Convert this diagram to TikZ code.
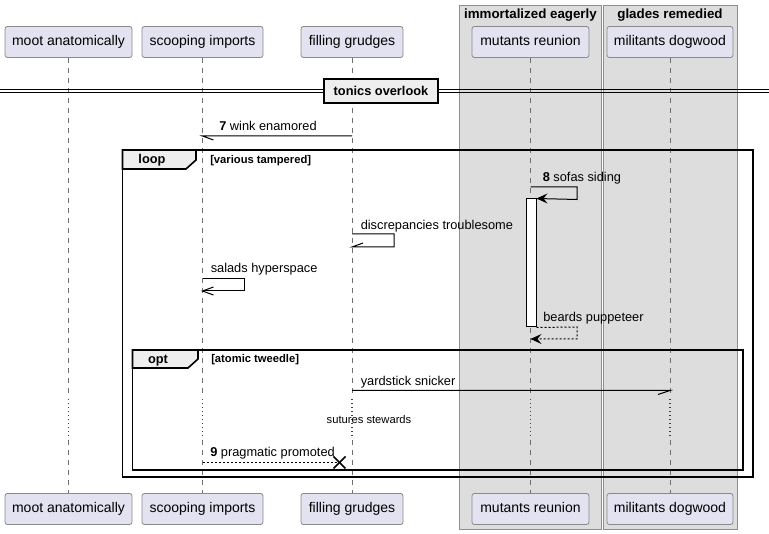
\documentclass[tikz,border=0pt]{standalone}
\usepackage{fontspec}
\setmainfont{Liberation Sans}
\usetikzlibrary{calc}
\definecolor{partfill}{HTML}{E2E2F0}
\definecolor{partdraw}{HTML}{8A8A8A}
\definecolor{grpfill}{HTML}{DDDDDD}
\definecolor{grpdraw}{HTML}{8F8F8F}
\definecolor{tabfill}{HTML}{EEEEEE}
\definecolor{lifecol}{HTML}{6E6E6E}
\definecolor{delayred}{HTML}{C0003A}
\tikzset{
  part/.style={draw=partdraw, fill=partfill, rounded corners=1.8pt, line width=0.6pt,
    minimum height=23.25pt, inner sep=0pt, text height=7.7pt, text depth=2.3pt,
    font=\fontsize{10.5}{12}\selectfont},
  life/.style={draw=lifecol, line width=0.6pt, dash pattern=on 3.75pt off 3.75pt},
  delayline/.style={draw=delayred, line width=0.8pt, dash pattern=on 0.8pt off 2.2pt},
  msg/.style={draw=black, line width=0.75pt},
  retmsg/.style={draw=black, line width=0.75pt, dash pattern=on 1.5pt off 1.5pt},
  msglabel/.style={anchor=base west, inner sep=0pt, font=\fontsize{9.6}{11}\selectfont},
  framebox/.style={draw=black, line width=1.4pt},
  tabshape/.style={draw=black, fill=tabfill, line width=1.2pt},
  tabtitle/.style={anchor=base, inner sep=0pt, font=\bfseries\fontsize{9.6}{11}\selectfont},
  guard/.style={anchor=base west, inner sep=0pt, font=\bfseries\fontsize{8.4}{10}\selectfont},
  grptitle/.style={anchor=base, inner sep=0pt, font=\bfseries\fontsize{10}{12}\selectfont},
  activ/.style={draw=black, fill=white, line width=0.75pt}
}
\begin{document}
\begin{tikzpicture}[x=0.75pt,y=-0.75pt]
\useasboundingbox (0,0) rectangle (769,534);

% group boxes
\filldraw[fill=grpfill, draw=grpdraw, line width=0.75pt] (459.5,6) rectangle (601,529.5);
\filldraw[fill=grpfill, draw=grpdraw, line width=0.75pt] (603,6) rectangle (737.5,529.5);
\node[grptitle] (g1) at (530.5,18.5) {immortalized eagerly};
\node[grptitle] (g2) at (670,18.5) {glades remedied};

% participants
\node[part, minimum width=95.25pt] (mootT) at (68.5,42) {moot anatomically};
\node[part, minimum width=90.75pt] (scoT) at (202.5,42) {scooping imports};
\node[part, minimum width=76.5pt] (filT) at (352,42) {filling grudges};
\node[part, minimum width=87.75pt] (mutT) at (530.5,42) {mutants reunion};
\node[part, minimum width=94.5pt] (milT) at (670,42) {militants dogwood};

\node[part, minimum width=95.25pt] (mootB) at (68.5,509) {moot anatomically};
\node[part, minimum width=90.75pt] (scoB) at (202.5,509) {scooping imports};
\node[part, minimum width=76.5pt] (filB) at (352,509) {filling grudges};
\node[part, minimum width=87.75pt] (mutB) at (530.5,509) {mutants reunion};
\node[part, minimum width=94.5pt] (milB) at (670,509) {militants dogwood};

% lifelines with delay
\foreach \t/\b in {mootT/mootB, scoT/scoB, filT/filB, mutT/mutB, milT/milB}{
  \draw[life] (\t.south) -- (\t.south |- 0,397);
  \draw[delayline] (\t.south |- 0,399) -- (\t.south |- 0,438);
  \draw[life] (\t.south |- 0,440) -- (\b.north);
}

% separator
\draw[line width=0.75pt] (0,89.5) -- (769,89.5);
\draw[line width=0.75pt] (0,93) -- (769,93);
\node[draw=black, fill=tabfill, line width=1.5pt, minimum width=85pt, minimum height=18.5pt,
  inner sep=0pt, font=\bfseries\fontsize{9.6}{11}\selectfont] (sep) at (381,91) {tonics overlook};

% message 7
\coordinate (m7a) at (filT.south |- 0,136);
\coordinate (m7b) at (scoT.south |- 0,136);
\draw[msg] (m7a) -- (m7b) -- ++(11,4);
\node[msglabel] (l7) at (219,131) {\textbf{7} wink enamored};

% loop frame
\draw[framebox] (122.5,150) rectangle (753,477);
\filldraw[tabshape] (122.5,150) -- (196,150) -- (196,160) -- (186,169) -- (122.5,169) -- cycle;
\node[tabtitle] (looplbl) at (152,164) {loop};
\node[guard] (loopg) at (210,164) {[various tampered]};

% activation bar
\node[activ, minimum width=7.5pt, minimum height=96pt, inner sep=0pt] (act) at (531,263) {};

% message 8 (self)
\coordinate (m8a) at (mutT.south |- 0,187);
\draw[msg] (m8a) -- (577,187) -- (577,199.5) -- (act.north east);
\fill ($(act.north east)$) -- ++(11,-5) -- ++(-4,5) -- ++(4,5) -- cycle;
\node[msglabel] (l8) at (542.5,182) {\textbf{8} sofas siding};

% discrepancies troublesome
\coordinate (dsa) at (filT.south |- 0,234);
\coordinate (dsb) at (filT.south |- 0,247);
\draw[msg] (dsa) -- (394,234) -- (394,247) -- (dsb) -- ++(11,-4);
\node[msglabel] (lds) at (360.5,230) {discrepancies troublesome};

% salads hyperspace
\coordinate (saa) at (scoT.south |- 0,278.5);
\coordinate (sab) at (scoT.south |- 0,291);
\draw[msg] (saa) -- (244,278.5) -- (244,291) -- (sab);
\draw[msg] ($(sab)+(11,-4)$) -- (sab) -- ++(11,4);
\node[msglabel] (lsa) at (210.5,273) {salads hyperspace};

% beards puppeteer (return)
\coordinate (bpb) at (mutT.south |- 0,339);
\draw[retmsg] (act.south east) -- (577,327) -- (577,339) -- (bpb);
\fill (bpb) -- ++(11,-5) -- ++(-4,5) -- ++(4,5) -- cycle;
\node[msglabel] (lbp) at (543,322) {beards puppeteer};

% opt frame
\draw[framebox] (132.5,350) rectangle (743,470);
\filldraw[tabshape] (132.5,350) -- (198,350) -- (198,359) -- (188,368) -- (132.5,368) -- cycle;
\node[tabtitle] (optlbl) at (158,363.5) {opt};
\node[guard] (optg) at (211,363) {[atomic tweedle]};

% yardstick snicker
\coordinate (ysa) at (filT.south |- 0,390.5);
\coordinate (ysb) at (milT.south |- 0,390.5);
\draw[msg] (ysa) -- (ysb) -- ++(-12,4);
\node[msglabel] (lys) at (360.5,386) {yardstick snicker};

% delay text
\node[inner sep=0pt, font=\fontsize{8.4}{10}\selectfont] (dly) at (369,420) {sutures stewards};

% message 9 (destroy)
\coordinate (m9a) at (scoT.south |- 0,462.5);
\coordinate (m9x) at (339.5,462.5);
\draw[retmsg] (m9a) -- (m9x);
\draw[line width=1.3pt] ($(m9x)+(-6,-6)$) -- ($(m9x)+(6,6)$);
\draw[line width=1.3pt] ($(m9x)+(-6,6)$) -- ($(m9x)+(6,-6)$);
\node[msglabel] (l9) at (210,457) {\textbf{9} pragmatic promoted};
\end{tikzpicture}
\end{document}
